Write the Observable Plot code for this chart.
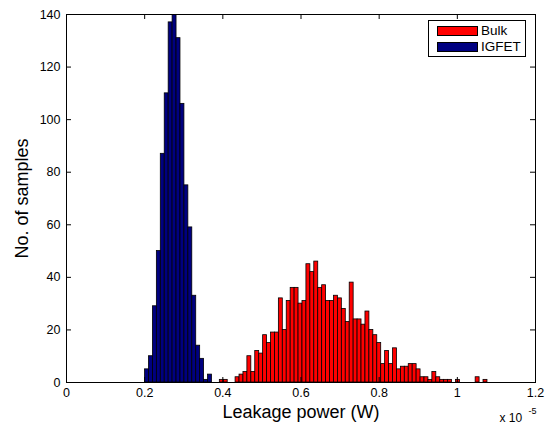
<!DOCTYPE html>
<html><head><meta charset="utf-8">
<script src="https://cdn.jsdelivr.net/npm/d3@7"></script>
<script src="https://cdn.jsdelivr.net/npm/@observablehq/plot@0.6"></script>
<style>
body{margin:0;background:#fff;font-family:"Liberation Sans",Arial,sans-serif;}
#wrap{position:relative;width:545px;height:428px;}
#legend{position:absolute;left:428px;top:20px;width:98px;height:37px;border:1px solid #000;background:#fff;box-sizing:border-box;font-size:13.5px;}
#legend .row{position:absolute;left:8px;height:16px;line-height:16px;display:flex;align-items:center;}
#legend .sw{width:41px;height:10px;border:1px solid #000;box-sizing:border-box;margin-right:3px;}
</style></head><body><div id="wrap"></div>
<script>
// histogram bins (x in units of 1e-5 W)
const binStart = 0.201;
const binWidth = 0.01007;
const igfetFirstBin = 0;
const igfetCounts = [5,10,29,50,87,110,137,140,131,106,75,59,33,14,9,1,3];
const bulkFirstBin = 19;
const bulkCounts = [1,1,0,0,
  2,3,4,10,4,12,11,18,15,19,19,32,20,31,36,36,30,31,45,42,46,36,37,31,
  31,33,32,28,23,38,24,24,22,27,20,18,15,7,12,7,13,5,6,6,7,7,5,2,2,1,
  4,2,1,1,1,0,1,0,0,0,0,2,0,1];
const seriesNames = ["Bulk","IGFET"];
const seriesColors = ["#ff0000","#000080"];
const xTicks = [0,0.2,0.4,0.6,0.8,1,1.2];
const xTickLabels = ["0","0.2","0.4","0.6","0.8","1","1.2"];
const yTicks = [0,20,40,60,80,100,120,140];
const xLabel = "Leakage power (W)";
const yLabel = "No. of samples";

function toBins(counts, first, series){
  return counts.map((c,i)=>({x1: binStart+(first+i)*binWidth, x2: binStart+(first+i+1)*binWidth, count:c, series}));
}
const bins = [...toBins(bulkCounts,bulkFirstBin,"Bulk"), ...toBins(igfetCounts,igfetFirstBin,"IGFET")];

const W=545,H=428,mL=66,mR=10,mT=14,mB=46;
const fh=H-mT-mB, fw=W-mL-mR, tl=5;
const chart = Plot.plot({
  width:W, height:H, marginLeft:mL, marginRight:mR, marginTop:mT, marginBottom:mB,
  style:{fontFamily:"Liberation Sans, Arial, sans-serif", fontSize:"12.5px", color:"black", background:"white", overflow:"visible"},
  x:{domain:[0,1.2]}, y:{domain:[0,140]},
  color:{domain:seriesNames, range:seriesColors},
  marks:[
    Plot.rectY(bins,{x1:"x1",x2:"x2",y:"count",fill:"series",stroke:"black",strokeWidth:0.8,clip:true}),
    Plot.frame({stroke:"black"}),
    Plot.tickX(xTicks,{x:d=>d,insetTop:fh-tl,stroke:"black"}),
    Plot.tickX(xTicks,{x:d=>d,insetBottom:fh-tl,stroke:"black"}),
    Plot.tickY(yTicks,{y:d=>d,insetRight:fw-tl,stroke:"black"}),
    Plot.tickY(yTicks,{y:d=>d,insetLeft:fw-tl,stroke:"black"}),
    Plot.axisX(xTicks,{tickSize:0,tickPadding:6,tickFormat:d=>xTickLabels[xTicks.indexOf(d)],label:null}),
    Plot.axisY(yTicks,{tickSize:0,tickPadding:6,label:null}),
    Plot.text([yLabel],{frameAnchor:"left",dx:-44,rotate:-90,fontSize:18,fill:"black",textAnchor:"middle",lineAnchor:"middle"}),
    Plot.text([xLabel],{frameAnchor:"bottom",dy:30,fontSize:18,fill:"black",textAnchor:"middle",lineAnchor:"middle"}),
    Plot.text(["x 10"],{frameAnchor:"bottom-right",dx:-36,dy:36,textAnchor:"start",lineAnchor:"middle",fontSize:12,fill:"black"}),
    Plot.text(["-5"],{frameAnchor:"bottom-right",dx:-7,dy:29,textAnchor:"start",lineAnchor:"middle",fontSize:9,fill:"black"})
  ]
});
const wrap=document.getElementById("wrap");
wrap.appendChild(chart);
const lg=document.createElement("div");
lg.id="legend";
seriesNames.forEach((n,i)=>{
  const r=document.createElement("div");
  r.className="row"; r.style.top=(2+i*16)+"px";
  const s=document.createElement("div"); s.className="sw"; s.style.background=seriesColors[i];
  const t=document.createElement("span"); t.textContent=n;
  r.appendChild(s); r.appendChild(t); lg.appendChild(r);
});
wrap.appendChild(lg);
</script></body></html>
